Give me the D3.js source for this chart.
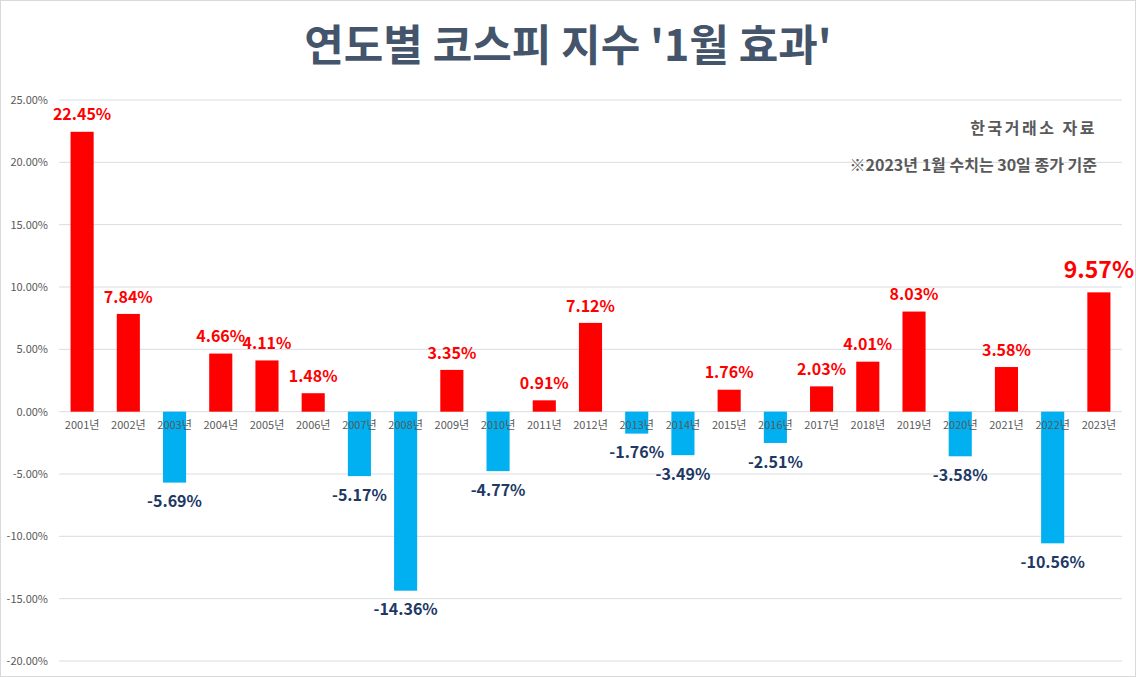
<!DOCTYPE html>
<html><head><meta charset="utf-8">
<script src="https://cdn.jsdelivr.net/npm/d3@7"></script>
<style>
body{margin:0;background:#fff;}
svg{display:block;font-family:"Noto Sans CJK KR","Noto Sans",sans-serif;}
</style></head>
<body><svg id="c" width="1136" height="677"></svg>
<script>
const years = ["2001년","2002년","2003년","2004년","2005년","2006년","2007년","2008년","2009년","2010년","2011년","2012년","2013년","2014년","2015년","2016년","2017년","2018년","2019년","2020년","2021년","2022년","2023년"];
const values = [22.45,7.84,-5.69,4.66,4.11,1.48,-5.17,-14.36,3.35,-4.77,0.91,7.12,-1.76,-3.49,1.76,-2.51,2.03,4.01,8.03,-3.58,3.58,-10.56,9.57];
const yTicks = [25,20,15,10,5,0,-5,-10,-15,-20];
const title = "연도별 코스피 지수 '1월 효과'";
const notes = ["한국거래소 자료","※2023년 1월 수치는 30일 종가 기준"];

const pct = d => d3.format(".2f")(d).replace("\u2212","-") + "%";

const svg = d3.select("#c");
const W = 1136, H = 677;
svg.append("rect").attr("x",0.5).attr("y",0.5).attr("width",W-1).attr("height",H-1)
  .attr("fill","#fff").attr("stroke","#D9D9D9");

const x = d3.scaleBand().domain(years).range([59,1122]).paddingInner(0.5).paddingOuter(0.25);
const y = d3.scaleLinear().domain([-20,25]).range([661,100]);

// gridlines
svg.append("g").selectAll("line").data(yTicks).join("line")
  .attr("x1",59).attr("x2",1122).attr("y1",d=>y(d)).attr("y2",d=>y(d))
  .attr("stroke","#D9DCE3").attr("stroke-width",1);

// y axis labels
const yAxis = d3.axisLeft(y).tickValues(yTicks).tickSize(0).tickPadding(0).tickFormat(pct);
const ga = svg.append("g").attr("transform","translate(48,0)").call(yAxis);
ga.select(".domain").remove();
ga.selectAll("text").attr("fill","#595959").attr("font-size",11)
  .attr("font-family","'Noto Sans CJK KR',sans-serif");

// bars
svg.append("g").selectAll("rect").data(values).join("rect")
  .attr("x",(d,i)=>x(years[i]))
  .attr("width",x.bandwidth())
  .attr("y",d=>y(Math.max(0,d)))
  .attr("height",d=>Math.abs(y(d)-y(0)))
  .attr("fill",d=>d>=0?"#FF0000":"#00B0F0");

// x axis labels
const xAxis = d3.axisBottom(x).tickSize(0).tickPadding(0);
const gx = svg.append("g").attr("transform",`translate(0,${y(0)+13})`).call(xAxis);
gx.select(".domain").remove();
gx.selectAll("text").attr("fill","#595959").attr("font-size",11).attr("dy","0.35em")
  .attr("font-family","'Noto Sans CJK KR',sans-serif");

// value labels
svg.append("g").selectAll("text").data(values).join("text")
  .attr("x",(d,i)=>x(years[i])+x.bandwidth()/2)
  .attr("y",(d,i)=>{
    if(i===values.length-1) return y(d)-22;
    return d>=0 ? y(d)-17 : y(d)+19;
  })
  .attr("dy","0.35em")
  .attr("text-anchor","middle")
  .attr("font-weight","bold")
  .attr("font-size",(d,i)=>i===values.length-1?23:16)
  .attr("fill",d=>d>=0?"#FF0000":"#203864")
  .text(pct);

// title
svg.append("text").attr("x",568).attr("y",46).attr("dy","0.35em").attr("text-anchor","middle")
  .attr("font-size",43).attr("font-weight","bold").attr("fill","#44546A").text(title);

// notes
svg.append("g").selectAll("text").data(notes).join("text")
  .attr("x",1097).attr("y",(d,i)=>128+i*37).attr("dy","0.35em").attr("text-anchor","end")
  .attr("font-size",16).attr("font-weight","bold").attr("fill","#595959")
  .attr("letter-spacing",(d,i)=>i===0?"2.5px":"0px").text(d=>d);
</script></body></html>
